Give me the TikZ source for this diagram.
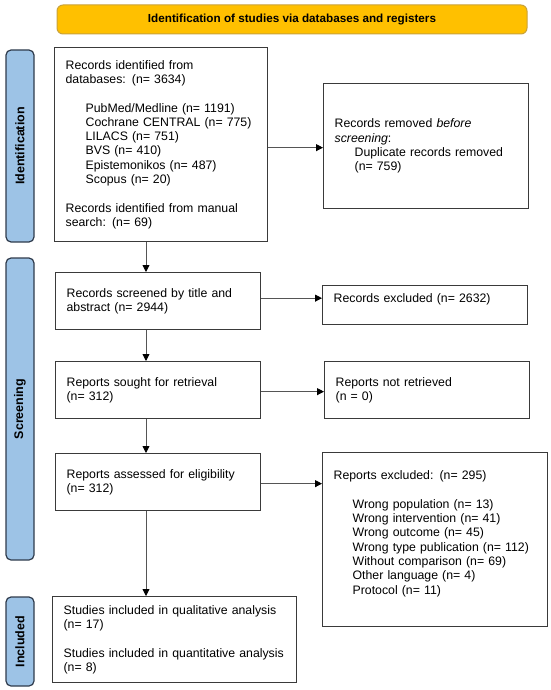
\documentclass[tikz,border=0pt]{standalone}
\usepackage{fontspec}
\setmainfont{Liberation Sans}
\usetikzlibrary{arrows.meta}
\definecolor{hdrfill}{HTML}{FFC000}
\definecolor{hdrline}{HTML}{C9A23A}
\definecolor{sidefill}{HTML}{9DC3E6}
\definecolor{sideline}{HTML}{2F3B4C}
\definecolor{boxline}{HTML}{3A3A3A}
\definecolor{arrline}{HTML}{555555}
\begin{document}
\begin{tikzpicture}[x=1pt,y=-1pt,
  box/.style={draw=boxline, line width=1.3pt, rectangle, inner xsep=11pt, inner ysep=0pt,
    align=left, font=\fontsize{12.3}{14.3}\selectfont, anchor=north west},
  side/.style={draw=sideline, fill=sidefill, line width=1.2pt, rounded corners=5pt,
    inner sep=0pt, rotate=90, minimum height=28pt, font=\bfseries\fontsize{12.5}{14}\selectfont},
  hdr/.style={draw=hdrline, fill=hdrfill, line width=1pt, rounded corners=6pt, inner sep=0pt,
    font=\bfseries\fontsize{11.7}{14}\selectfont},
  arr/.style={draw=arrline, line width=0.9pt, -{Triangle[length=7pt,width=7pt,color=black]}}
]
\useasboundingbox (0,0) rectangle (550,690);

% header
\node[hdr, minimum width=470pt, minimum height=29pt] (hdr) at (292,19.5) {Identification of studies via databases and registers};

% side bars
\node[side, minimum width=192pt] (sid) at (20,146) {Identification};
\node[side, minimum width=302pt] (sscr) at (20,409) {Screening};
\node[side, minimum width=89pt] (sinc) at (20,641.5) {Included};

% boxes
\node[box, minimum width=213pt, minimum height=194pt, text width=191pt] (b1) at (54,47)
 {Records identified from\\databases: (n= 3634)\\[14.3pt]
  \hspace*{20pt}PubMed/Medline (n= 1191)\\
  \hspace*{20pt}Cochrane CENTRAL (n= 775)\\
  \hspace*{20pt}LILACS (n= 751)\\
  \hspace*{20pt}BVS (n= 410)\\
  \hspace*{20pt}Epistemonikos (n= 487)\\
  \hspace*{20pt}Scopus (n= 20)\\[14.3pt]
  Records identified from manual\\search: (n= 69)};

\node[box, minimum width=205pt, minimum height=125pt, text width=183pt] (rem) at (323,83)
 {Records removed \textit{before}\\\textit{screening}:\\
  \hspace*{20pt}Duplicate records removed\\
  \hspace*{20pt}(n= 759)};

\node[box, minimum width=205pt, minimum height=57pt, text width=183pt] (b2) at (55,272)
 {Records screened by title and\\abstract (n= 2944)};

\node[box, minimum width=205pt, minimum height=39pt, text width=183pt] (exc) at (322,285)
 {Records excluded (n= 2632)\\\mbox{}};

\node[box, minimum width=205pt, minimum height=57pt, text width=183pt] (b3) at (55,361)
 {Reports sought for retrieval\\(n= 312)};

\node[box, minimum width=205pt, minimum height=57pt, text width=183pt] (nret) at (324,361)
 {Reports not retrieved\\(n = 0)};

\node[box, minimum width=205pt, minimum height=57pt, text width=183pt] (b4) at (55,453)
 {Reports assessed for eligibility\\(n= 312)};

\node[box, minimum width=225pt, minimum height=174pt, text width=203pt] (rexc) at (322,452)
 {Reports excluded: (n= 295)\\[14.3pt]
  \hspace*{19pt}Wrong population (n= 13)\\
  \hspace*{19pt}Wrong intervention (n= 41)\\
  \hspace*{19pt}Wrong outcome (n= 45)\\
  \hspace*{19pt}Wrong type publication (n= 112)\\
  \hspace*{19pt}Without comparison (n= 69)\\
  \hspace*{19pt}Other language (n= 4)\\
  \hspace*{19pt}Protocol (n= 11)\\\mbox{}};

\node[box, minimum width=244pt, minimum height=86pt, text width=222pt] (b5) at (52,596)
 {Studies included in qualitative analysis\\(n= 17)\\[14.3pt]
  Studies included in quantitative analysis\\(n= 8)};

% connectors
\coordinate (vx) at (146,0);
\draw[arr] (b1.south -| vx) -- (b2.north -| vx);
\draw[arr] (b2.south -| vx) -- (b3.north -| vx);
\draw[arr] (b3.south -| vx) -- (b4.north -| vx);
\draw[arr] (b4.south -| vx) -- (b5.north -| vx);

\draw[arr] ([yshift=-3pt]b1.east) -- ([yshift=-3pt]b1.east -| rem.west);
\draw[arr] ([yshift=3pt]b2.east) -- ([yshift=3pt]b2.east -| exc.west);
\draw[arr] ([yshift=-1.5pt]b3.east) -- ([yshift=-1.5pt]b3.east -| nret.west);
\draw[arr] ([yshift=-1.5pt]b4.east) -- ([yshift=-1.5pt]b4.east -| rexc.west);
\end{tikzpicture}
\end{document}
